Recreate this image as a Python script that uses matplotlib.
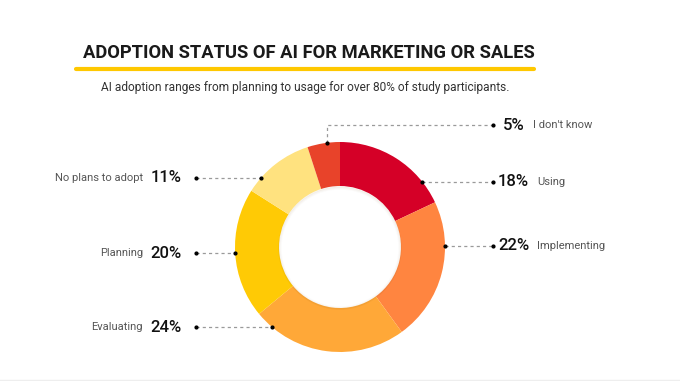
import numpy as np
import matplotlib.pyplot as plt
from matplotlib.patches import Circle

plt.rcParams['font.family'] = ['Roboto', 'DejaVu Sans']

# data, clockwise from 12 o'clock
categories = ["Using", "Implementing", "Evaluating", "Planning", "No plans to adopt", "I don't know"]
values = [18, 22, 24, 20, 11, 5]
colors = ["#D50027", "#FF8540", "#FFA838", "#FFCA05", "#FFE27F", "#E8432A"]

W, H = 680, 381
cx, cy = 340, H - 247
r_out, r_in = 105, 61

fig = plt.figure(figsize=(W / 100, H / 100), dpi=100)
ax = fig.add_axes([0, 0, 1, 1])

ax.pie(values, colors=colors, startangle=90, counterclock=False,
       center=(cx, cy), radius=r_out, frame=True,
       wedgeprops=dict(width=r_out - r_in, linewidth=0))
ax.set_xlim(0, W)
ax.set_ylim(0, H)
ax.set_aspect("equal")
ax.axis("off")

# soft shadow inside the hole
for i, a in enumerate([0.07, 0.04, 0.02]):
    ax.add_patch(Circle((cx, cy - 1), r_in - i * 1.0, fill=False,
                        edgecolor="#7a4a00", alpha=a, linewidth=1.0, zorder=3))

# title
ax.text(83, H - 53, "ADOPTION STATUS OF AI FOR MARKETING OR SALES",
        fontsize=13.2, fontweight="bold", color="#1a1a1a", va="center", ha="left")
ax.plot([76, 534], [H - 69, H - 69], color="#FFC800", lw=3, solid_capstyle="round")
ax.text(305, H - 87, "AI adoption ranges from planning to usage for over 80% of study participants.",
        fontsize=8.6, color="#333333", va="center", ha="center")

# bottom rule
ax.plot([0, W], [1, 1], color="#eeeeee", lw=1)

line_kw = dict(color="#9a9a9a", lw=0.9, ls=(0, (2.5, 2.5)), zorder=4)
dot_kw = dict(color="black", ms=2, marker="o", ls="none", zorder=5)
pct_kw = dict(fontsize=12, fontweight="medium", color="#111111", va="center")
lab_kw = dict(fontsize=8, color="#555555", va="center")

# right side labels: (category index, label y in px)
right = [(1, 246), (0, 182)]
for idx, py in right:
    y = H - py
    x0 = cx + np.sqrt(r_out ** 2 - (y - cy) ** 2)
    ax.plot([x0, 493], [y, y], **line_kw)
    ax.plot([x0, 493], [y, y], **dot_kw)
    ax.text(498, y, f"{values[idx]}%", ha="left", **pct_kw)
    ax.text(537, y, categories[idx], ha="left", **lab_kw)

# "I don't know": vertical then horizontal leader
vx, vy = 327, H - 125
y0 = cy + np.sqrt(r_out ** 2 - (vx - cx) ** 2)
ax.plot([vx, vx, 493], [y0, vy, vy], **line_kw)
ax.plot([vx, 493], [y0, vy], **dot_kw)
ax.text(503, vy, f"{values[5]}%", ha="left", **pct_kw)
ax.text(533, vy, categories[5], ha="left", **lab_kw)

# left side labels
left = [(4, 178), (3, 253), (2, 327)]
for idx, py in left:
    y = H - py
    x0 = cx - np.sqrt(r_out ** 2 - (y - cy) ** 2)
    ax.plot([196, x0], [y, y], **line_kw)
    ax.plot([196, x0], [y, y], **dot_kw)
    ax.text(182, y, f"{values[idx]}%", ha="right", **pct_kw)
    ax.text(143, y, categories[idx], ha="right", **lab_kw)

fig.savefig("out.png", dpi=100)
